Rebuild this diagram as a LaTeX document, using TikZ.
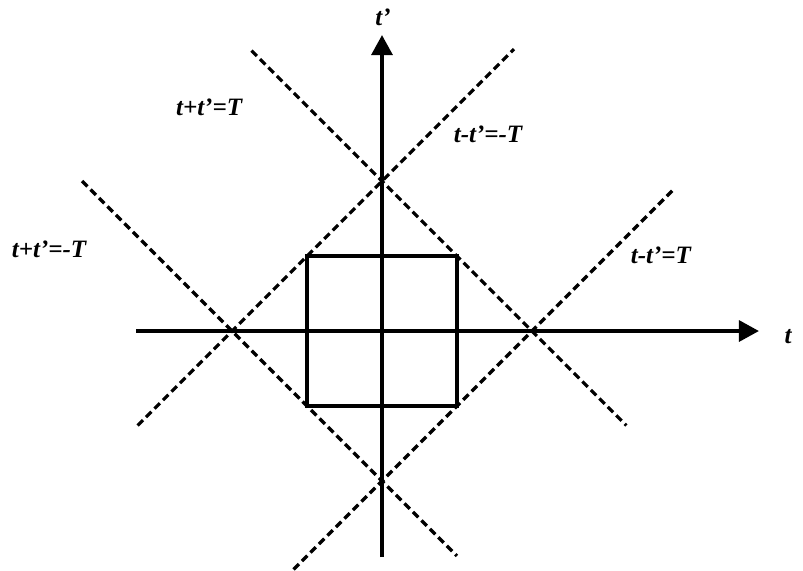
\documentclass[tikz,border=0pt]{standalone}
\usepackage{fontspec}
\setmainfont{Liberation Serif}
\usepackage{tikz}
\usetikzlibrary{positioning, arrows.meta}
\tikzset{
  axisline/.style={-{Triangle[length=10pt,width=10.5pt]}, line width=1.7pt, black},
  boxline/.style={line width=1.6pt, black},
  diagline/.style={line width=1.6pt, black, dash pattern=on 3.8pt off 2.2pt},
  eqlabel/.style={font=\fontsize{12.5}{14}\selectfont\bfseries\itshape, inner sep=1pt},
}

\begin{document}
\begin{tikzpicture}[x=75pt, y=75pt]
  \useasboundingbox (-2.547,-1.6) rectangle (2.807,2.207);
  % axes
  \coordinate (tL) at (-1.64,0);
  \coordinate (tR) at (2.513,0);
  \coordinate (sB) at (0,-1.507);
  \coordinate (sT) at (0,1.973);
  \draw[axisline] (tL) -- (tR);
  \draw[axisline] (sB) -- (sT);
  \node[eqlabel] (tlab) at (2.707,-0.04) {t};
  \node[eqlabel] (slab) at (0.007,2.093) {t'};
  % square |t|,|t'| <= T/2
  \coordinate (sqA) at (-0.5,-0.5);
  \coordinate (sqC) at (0.5,0.5);
  \draw[boxline] (sqA) rectangle (sqC);
  % diagonals
  \coordinate (pA1) at (-0.87,1.87);
  \coordinate (pA2) at (1.63,-0.63);
  \coordinate (pB1) at (-2.0,1.0);
  \coordinate (pB2) at (0.5,-1.5);
  \coordinate (pC1) at (-1.63,-0.63);
  \coordinate (pC2) at (0.88,1.88);
  \coordinate (pD1) at (-0.59,-1.59);
  \coordinate (pD2) at (1.94,0.94);
  \draw[diagline] (pA1) -- (pA2);
  \draw[diagline] (pB1) -- (pB2);
  \draw[diagline] (pC1) -- (pC2);
  \draw[diagline] (pD1) -- (pD2);
  \node[eqlabel] (labA) at (-1.153,1.493) {t+t'=T};
  \node[eqlabel] (labB) at (-2.22,0.547) {t+t'=-T};
  \node[eqlabel] (labC) at (0.707,1.313) {t-t'=-T};
  \node[eqlabel] (labD) at (1.86,0.507) {t-t'=T};
\end{tikzpicture}
\end{document}
